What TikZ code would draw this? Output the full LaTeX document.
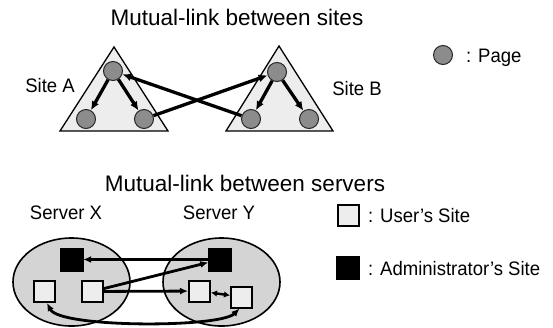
\documentclass[tikz,border=0pt]{standalone}
\usepackage{fontspec}
\setmainfont{Liberation Sans}
\newfontfamily\labfont[FakeStretch=0.95]{Liberation Sans}
\usetikzlibrary{arrows.meta}
\begin{document}
\begin{tikzpicture}[x=1pt,y=-1pt,
  page/.style={circle,draw=black!85,line width=1pt,fill=black!45,minimum size=19pt,inner sep=0pt},
  site/.style={draw=black,line width=1.3pt,fill=black!7},
  link/.style={line width=3.3pt,-{Latex[length=9pt,width=8pt]}},
  slink/.style={line width=2.8pt,-{Latex[length=8pt,width=7pt]}},
  usersite/.style={draw=black,line width=2pt,fill=black!7,minimum size=21pt,inner sep=0pt},
  adminsite/.style={draw=black,fill=black,minimum size=23pt,inner sep=0pt},
  server/.style={draw=black,line width=1.6pt,fill=black!17},
  title/.style={font=\fontsize{22.5}{26}\selectfont,inner sep=0pt},
  lab/.style={font=\labfont\fontsize{19.5}{22}\selectfont,inner sep=0pt},
]
\useasboundingbox (0,0) rectangle (553,327);

% ---------- mutual links between sites ----------
\node[title,anchor=base] (t1) at (237,25) {Mutual-link between sites};

\draw[site] (114,47) -- (168,131) -- (60,131) -- cycle;
\draw[site] (279,46) -- (333,131) -- (226,131) -- cycle;

\node[page] (a0) at (113,71) {};
\node[page] (a1) at (86,119) {};
\node[page] (a2) at (144,119) {};
\node[page] (b0) at (277,72) {};
\node[page] (b1) at (251,119) {};
\node[page] (b2) at (309,119) {};

\draw[link] (a0) -- (a1);
\draw[link] (a0) -- (a2);
\draw[link] (b0) -- (b1);
\draw[link] (b0) -- (b2);
\draw[link] (a2) -- (b0);
\draw[link] (b1) -- (a0);

\node[lab,anchor=base] (sa) at (50,92) {Site A};
\node[lab,anchor=base] (sb) at (357,95) {Site B};

\node[page] (lp) at (443,55) {};
\node[lab,anchor=base west] (lpt) at (466,62) {: Page};

% ---------- mutual links between servers ----------
\node[title,anchor=base] (t2) at (245,191) {Mutual-link between servers};
\node[lab,anchor=base] (sx) at (66,219) {Server X};
\node[lab,anchor=base] (sy) at (219,219) {Server Y};

\draw[server] (71.5,282) ellipse [x radius=58.5, y radius=44];
\draw[server] (221.5,282) ellipse [x radius=58.5, y radius=44];

\node[adminsite] (xa) at (71.5,259.5) {};
\node[usersite] (xl) at (44,291.5) {};
\node[usersite] (xr) at (92,291.5) {};
\node[adminsite] (ya) at (220,259.5) {};
\node[usersite] (y1) at (199.5,291) {};
\node[usersite] (y2) at (241.5,297) {};

\draw[slink] (ya) -- (xa);
\draw[slink] (xr) -- (ya);
\draw[slink] (xr) -- (y1);
\draw[line width=2.4pt,{Latex[length=6pt,width=6.5pt]}-{Latex[length=6pt,width=6.5pt]}] (y1) -- (y2);
\draw[line width=2.8pt,{Latex[length=8pt,width=7pt]}-{Latex[length=8pt,width=7pt]}]
  ([xshift=3pt]xl.south) .. controls (60,328) and (220,328) .. ([xshift=-2pt]y2.south);

% ---------- legend ----------
\node[usersite] (lu) at (348,215) {};
\node[lab,anchor=base west] (lut) at (368,222) {: User’s Site};
\node[adminsite] (la) at (348,268) {};
\node[lab,anchor=base west] (lat) at (368,275) {: Administrator’s Site};
\end{tikzpicture}
\end{document}
